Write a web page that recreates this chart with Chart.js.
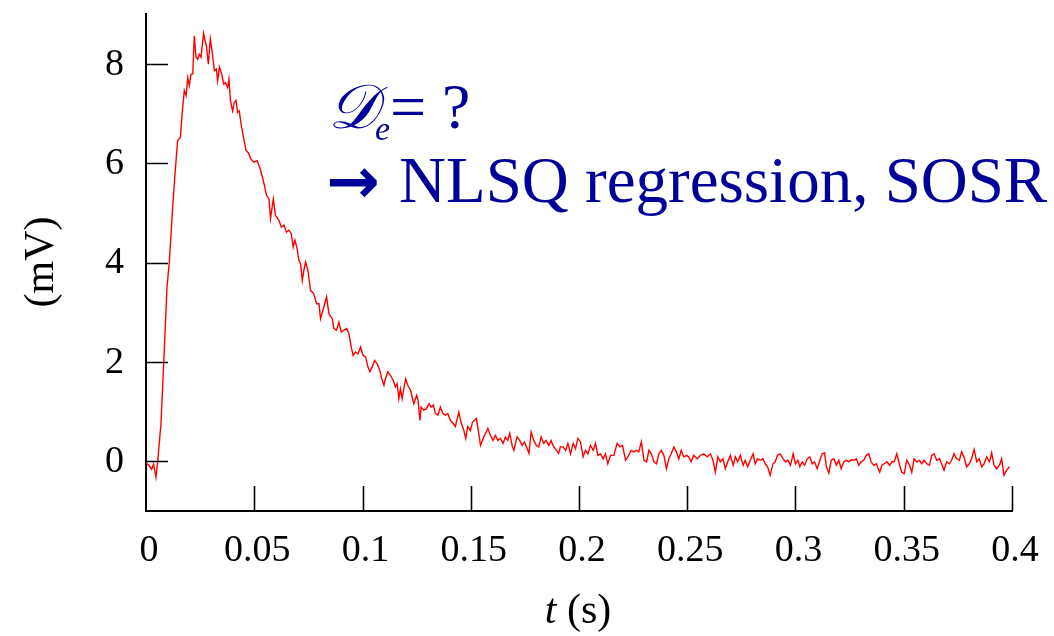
<!DOCTYPE html>
<html>
<head>
<meta charset="utf-8">
<script src="https://cdn.jsdelivr.net/npm/chart.js@4.4.1/dist/chart.umd.min.js"></script>
<style>
  html, body { margin: 0; padding: 0; background: #fff; }
  #wrap { width: 1054px; height: 636px; }
</style>
</head>
<body>
<div id="wrap"><canvas id="trace" width="1054" height="636"></canvas></div>
<script>
// recorded voltage trace: time (s) and potential (mV)
const times = [
  0, .0015, .0026, .0035, .0046, .0054, .0069, .0085, .0097, .0108, .0123, .0134, .0146, .0159, .0166, .0177,
  .0185, .0193, .0200, .0208, .0216, .0223, .0231, .0239, .0246, .0254, .0262, .0266, .0273, .0279, .0288, .0297,
  .0305, .0316, .0325, .0331, .0339, .0350, .0359, .0367, .0377, .0383, .0390, .0400, .0408, .0416, .0423, .0431,
  .0439, .0446, .0462, .0473,
  .0483, .0498, .0514, .0529, .0545, .0557, .0568, .0575, .0588, .0598, .0614, .0625, .0637, .0649, .0660, .0671,
  .0680, .0688, .0698, .0706, .0714, .0722, .0729, .0737, .0748, .0760, .0775, .0788, .0799, .0806, .0819, .0834,
  .0845, .0860, .0868, .0880, .0891, .0902, .0914, .0926, .0937, .0948, .0957, .0968, .0979, .0991, .1003, .1014,
  .1025, .1034, .1045, .1056, .1068, .1080,
  .1091, .1099, .1106, .1117, .1129, .1142, .1152, .1160, .1168, .1175, .1183, .1199, .1209, .1222, .1237, .1250,
  .1257, .1265, .1271, .1283, .1296, .1307, .1317, .1327, .1337, .1348, .1360, .1371, .1383, .1394, .1406, .1419,
  .1429, .1445, .1455, .1468, .1477, .1486, .1499, .1508, .1517, .1526, .1537, .1545, .1560, .1568, .1579, .1591,
  .1603, .1614, .1625, .1637, .1649, .1660, .1671, .1680, .1691, .1699, .1714, .1726, .1737, .1748, .1760, .1769,
  .1779, .1791, .1803, .1814, .1825, .1837, .1848, .1860, .1871, .1883, .1896, .1906, .1914,
  .1927, .1938, .1949, .1961, .1973, .1984, .1995, .2007, .2019, .2030, .2041, .2053, .2066, .2076, .2087, .2099,
  .2112, .2122, .2133, .2146, .2161, .2176, .2189, .2201, .2215, .2226, .2241, .2253, .2266, .2276, .2288, .2300,
  .2312, .2323, .2334, .2346, .2358, .2369, .2380, .2392, .2404, .2415, .2426, .2438, .2450, .2461, .2472, .2484,
  .2497, .2507, .2518, .2530, .2546, .2561, .2576, .2592, .2607, .2619, .2630, .2641, .2653, .2665, .2676, .2687,
  .2699, .2712, .2722, .2733, .2745, .2758, .2768, .2779, .2791, .2804, .2814, .2825, .2837, .2850, .2860, .2871,
  .2883, .2896, .2906, .2917, .2929,
  .2943, .2954, .2965, .2977, .2989, .3000, .3011, .3020, .3031, .3042, .3054, .3066, .3077, .3088, .3100, .3113,
  .3123, .3134, .3143, .3154, .3165, .3177, .3189, .3200, .3211, .3223, .3235, .3246, .3257, .3269, .3281, .3292,
  .3303, .3315, .3327, .3338, .3349, .3361, .3373, .3389, .3399, .3410, .3422, .3435, .3445, .3456, .3468, .3481,
  .3491, .3502, .3514, .3527, .3537, .3548, .3560, .3573, .3583, .3594, .3606, .3619, .3629, .3640, .3652, .3665,
  .3675, .3686, .3698, .3711, .3721, .3732, .3744, .3757, .3767, .3778, .3790, .3803, .3813, .3825, .3837, .3849,
  .3860, .3871, .3883, .3896, .3906, .3917, .3929, .3942, .3952, .3963, .3975, .3988
];
const mV = [
  -0.03, -0.09, -0.16, -0.06, -0.32, 0.0, 0.75, 2.29, 3.5, 4.03, 5.1, 5.78, 6.45, 6.52, 6.95, 7.46,
  7.36, 7.72, 7.56, 7.79, 7.79, 8.56, 8.13, 8.09, 8.19, 8.13, 8.46, 8.61, 8.46, 8.36, 7.99, 8.5,
  8.26, 7.86, 7.89, 7.66, 7.93, 7.79, 7.59, 7.62, 7.52, 7.69, 7.26, 7.05, 7.22, 7.26, 7.02, 7.05,
  6.79, 6.62, 6.25, 6.21,
  6.09, 6.02, 6.05, 5.86, 5.59, 5.35, 5.28, 4.88, 5.28, 4.95, 4.85, 4.71, 4.75, 4.61, 4.65, 4.58,
  4.31, 4.45, 4.28, 4.04, 3.98, 3.64, 3.84, 4.01, 3.84, 3.44, 3.37, 3.17, 3.17, 2.87, 3.07, 3.31,
  2.97, 2.87, 2.67, 2.64, 2.80, 2.60, 2.64, 2.67, 2.57, 2.30, 2.13, 2.20, 2.16, 2.30, 2.13, 2.10,
  1.90, 1.80, 1.90, 2.03, 1.96, 1.83,
  1.63, 1.53, 1.66, 1.80, 1.73, 1.63, 1.50, 1.56, 1.26, 1.46, 1.26, 1.66, 1.53, 1.43, 1.16, 1.33,
  1.23, 0.82, 1.09, 1.03, 1.06, 1.16, 1.09, 1.13, 0.96, 0.93, 1.09, 0.96, 0.93, 0.96, 0.82, 0.76,
  0.70, 0.99, 0.79, 0.62, 0.46, 0.70, 0.62, 0.79, 0.82, 0.86, 0.56, 0.32, 0.49, 0.56, 0.66, 0.52,
  0.42, 0.52, 0.42, 0.46, 0.36, 0.49, 0.42, 0.56, 0.32, 0.22, 0.49, 0.42, 0.32, 0.39, 0.26, 0.16,
  0.59, 0.42, 0.32, 0.29, 0.49, 0.36, 0.42, 0.32, 0.42, 0.29, 0.22, 0.16, 0.29,
  0.29, 0.22, 0.36, 0.15, 0.36, 0.25, 0.46, 0.39, 0.09, 0.22, 0.15, 0.32, 0.22, 0.36, 0.12, 0.15,
  0.05, 0.15, -0.05, 0.12, 0.12, 0.36, 0.29, 0.32, 0.02, 0.09, 0.22, 0.19, 0.22, 0.19, 0.39, 0.02,
  -0.01, 0.22, 0.15, -0.01, -0.05, 0.15, 0.22, 0.12, -0.15, 0.05, 0.15, 0.29, 0.19, 0.05, 0.22, 0.09,
  0.12, 0.09, -0.01, 0.12, 0.05, 0.12, 0.15, 0.09, 0.15, 0.02, -0.22, 0.09, -0.01, 0.05, -0.15, -0.01,
  0.12, -0.08, 0.09, -0.01, 0.12, -0.08, 0.02, -0.11, 0.02, 0.15, -0.05, 0.05, 0.02, 0.05, -0.05, -0.11,
  -0.28, -0.05, -0.01, 0.12, 0.15,
  0.05, -0.01, 0.02, -0.08, 0.15, -0.05, 0.02, -0.11, -0.01, -0.08, 0.05, 0.09, -0.05, -0.01, -0.15, 0.02,
  0.15, 0.17, -0.11, -0.24, 0.02, 0.05, -0.08, 0.02, -0.15, -0.01, 0.02, -0.01, 0.03, 0.02, 0.05, -0.08,
  -0.01, 0.02, 0.12, 0.15, -0.01, -0.08, -0.05, -0.22, -0.08, -0.05, -0.01, -0.08, -0.01, -0.01, 0.15, -0.08,
  -0.22, -0.25, 0.02, -0.08, -0.22, 0.05, -0.01, 0.02, -0.05, 0.02, -0.05, -0.08, 0.12, 0.15, 0.02, 0.05,
  -0.05, -0.18, -0.01, -0.05, 0.02, 0.15, 0.05, 0.02, 0.19, 0.09, -0.11, -0.05, 0.05, 0.24, -0.01, 0.05,
  -0.11, -0.05, 0.09, -0.01, 0.17, -0.08, -0.15, -0.08, 0.05, -0.28, -0.18, -0.11
];

const xTicks = [0, 0.05, 0.1, 0.15, 0.2, 0.25, 0.3, 0.35, 0.4];
const xTickLabels = ['0', '0.05', '0.1', '0.15', '0.2', '0.25', '0.3', '0.35', '0.4'];
const yTicks = [0, 2, 4, 6, 8];
const yTickLabels = ['0', '2', '4', '6', '8'];

const serif = '"Liberation Serif", "DejaVu Serif", serif';
const ink = '#000099';

// inward tick marks, tick labels, axis titles and the note on the right
const frame = {
  id: 'frame',
  afterDraw(chart) {
    const ctx = chart.ctx;
    const xs = chart.scales.x, ys = chart.scales.y;
    const a = chart.chartArea;
    ctx.save();
    ctx.strokeStyle = '#000';
    ctx.lineWidth = 1.6;
    ctx.beginPath();
    xTicks.forEach(v => {
      if (v === 0) return;
      const px = Math.round(xs.getPixelForValue(v)) + 0.5;
      ctx.moveTo(px, a.bottom);
      ctx.lineTo(px, a.bottom - 25);
    });
    yTicks.forEach(v => {
      const py = Math.round(ys.getPixelForValue(v)) + 0.5;
      ctx.moveTo(a.left, py);
      ctx.lineTo(a.left + 22, py);
    });
    ctx.stroke();

    ctx.fillStyle = '#000';
    ctx.font = '38px ' + serif;
    ctx.textBaseline = 'middle';
    ctx.textAlign = 'center';
    xTicks.forEach((v, i) => {
      ctx.fillText(xTickLabels[i], xs.getPixelForValue(v) + 3, 551);
    });
    ctx.textAlign = 'right';
    yTicks.forEach((v, i) => {
      ctx.fillText(yTickLabels[i], 124, ys.getPixelForValue(v) + 1);
    });

    // axis titles
    ctx.save();
    ctx.translate(42, 262);
    ctx.rotate(-Math.PI / 2);
    ctx.textAlign = 'center';
    ctx.font = '42px ' + serif;
    ctx.fillText('(mV)', 0, 0);
    ctx.restore();

    ctx.textAlign = 'left';
    ctx.font = 'italic 42px ' + serif;
    const tW = ctx.measureText('t').width;
    ctx.font = '42px ' + serif;
    const sW = ctx.measureText(' (s)').width;
    const x0 = 578 - (tW + sW) / 2;
    ctx.font = 'italic 42px ' + serif;
    ctx.fillText('t', x0, 612);
    ctx.font = '42px ' + serif;
    ctx.fillText(' (s)', x0 + tW, 612);

    // note
    ctx.fillStyle = ink;
    ctx.textBaseline = 'alphabetic';
    ctx.font = 'italic 62px ' + serif;
    ctx.fillText('\u{1D49F}', 328, 128);
    ctx.font = 'italic 34px ' + serif;
    ctx.fillText('e', 375, 140);
    ctx.font = '64px ' + serif;
    ctx.fillText('= ?', 390, 128);
    ctx.font = 'bold 64px "DejaVu Sans", sans-serif';
    ctx.fillText('\u2192', 326, 203);
    ctx.font = '65px ' + serif;
    ctx.fillText('NLSQ regression, SOSR', 399, 202);
    ctx.restore();
  }
};

new Chart(document.getElementById('trace').getContext('2d'), {
  type: 'line',
  data: {
    datasets: [{
      data: times.map((t, i) => ({ x: t, y: mV[i] })),
      borderColor: '#ff0000',
      borderWidth: 1.4,
      pointRadius: 0,
      tension: 0,
      fill: false
    }]
  },
  options: {
    responsive: false,
    animation: false,
    layout: { padding: { left: 146, right: 42, top: 14, bottom: 125 } },
    plugins: { legend: { display: false }, tooltip: { enabled: false } },
    scales: {
      x: {
        type: 'linear', min: 0, max: 0.4,
        afterBuildTicks: s => { s.ticks = xTicks.map(v => ({ value: v })); },
        grid: { display: false, drawTicks: false },
        border: { display: true, color: '#000', width: 2 },
        ticks: { display: false }
      },
      y: {
        type: 'linear', min: -1, max: 9,
        afterBuildTicks: s => { s.ticks = yTicks.map(v => ({ value: v })); },
        grid: { display: false, drawTicks: false },
        border: { display: true, color: '#000', width: 2 },
        ticks: { display: false }
      }
    }
  },
  plugins: [frame]
});
</script>
</body>
</html>
